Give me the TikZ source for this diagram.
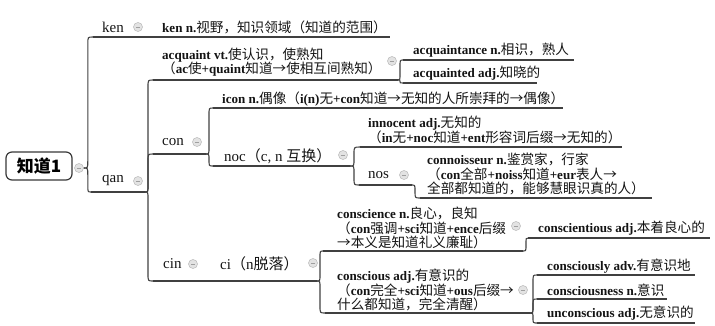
\documentclass[tikz,border=0pt]{standalone}
\usepackage{fontspec}
\setmainfont{Liberation Serif}[BoldFeatures={Scale=0.96}]
\newfontfamily\cjk{Noto Sans CJK SC}
\usetikzlibrary{calc}
\newcommand\C[1]{{\cjk\mdseries #1}}
\newcommand\B[1]{\textbf{#1}}
\tikzset{
  conn/.style={draw=black!75,line width=1.1pt},
  uline/.style={draw=black!75,line width=1.1pt},
  deftext/.style={anchor=west,inner sep=0pt,align=left,text=black!92,font=\fontsize{13.6}{14.5}\selectfont},
  labtext/.style={anchor=west,inner sep=0pt,text=black!92,font=\fontsize{15}{17}\selectfont},
  fold/.style={circle,minimum size=9pt,inner sep=0pt,fill=gray!22,draw=gray!50,line width=0.6pt,
    path picture={\draw[gray!75,line width=0.8pt]
      ([xshift=-2.2pt]path picture bounding box.center) -- ([xshift=2.2pt]path picture bounding box.center);}},
  rootbox/.style={draw=black!78,line width=1.2pt,rounded corners=6pt,minimum width=66pt,minimum height=28pt,
    inner sep=0pt,font=\cjk\bfseries\fontsize{17}{19}\selectfont}
}
% connector: from #1 to #2, vertical part at x(#1)+#3
\newcommand\link[3]{%
  \draw[conn] let \p1=(#1), \p2=(#2), \n1={\x1+#3},
    \n2={sign(\y2-\y1)*min(7,abs(\y2-\y1)/2)} in
    (\p1) .. controls (\n1,\y1) .. (\n1,\y1+\n2) -- (\n1,\y2-\n2)
    .. controls (\n1,\y2) .. (\p2);}
% underline: name, xL, xR, y
\newcommand\uline[4]{%
  \coordinate (#1-s) at (#2,#4);
  \coordinate (#1-e) at (#3,#4);
  \draw[uline] (#1-s) -- (#1-e);}
\begin{document}
\begin{tikzpicture}[x=1pt,y=-1pt]
\useasboundingbox (0,0) rectangle (715,325);

% root
\node[rootbox] (root) at (39,166) {知道1};
\node[fold] (root-c) at (79,168) {};

% level 1
\node[labtext] (ken) at (102,27) {ken};
\node[fold] (ken-c) at (138,27) {};
\uline{ken}{93}{148}{37}
\node[deftext] (kend) at (162,27) {\B{ken n.}\C{视野，知识领域（知道的范围）}};
\uline{kend}{155}{390}{37}

\node[labtext] (qan) at (102,180) {qan};
\node[fold] (qan-c) at (138,181) {};
\uline{qan}{91}{145}{192}

% acquaint
\node[deftext] (acq) at (162,62) {\B{acquaint vt.}\C{使认识，使熟知}\\\C{（}\B{ac}\C{使}\B{+quaint}\C{知道→使相互间熟知）}};
\node[fold] (acq-c) at (392,61) {};
\uline{acq}{153}{398}{80}
\node[deftext] (acqce) at (413,50) {\B{acquaintance n.}\C{相识，熟人}};
\uline{acqce}{403}{574}{60}
\node[deftext] (acqed) at (413,73) {\B{acquainted adj.}\C{知晓的}};
\uline{acqed}{403}{537}{83}

% con
\node[labtext] (con) at (162,142) {con};
\node[fold] (con-c) at (197,142) {};
\uline{con}{153}{206}{154}
\node[deftext] (icon) at (222,99) {\B{icon n.}\C{偶像（}\B{i(n)}\C{无}\B{+con}\C{知道→无知的人所崇拜的→偶像）}};
\uline{icon}{213}{563}{108}
\node[labtext] (noc) at (224,156) {noc\C{（}c, n \C{互换）}};
\node[fold] (noc-c) at (343,155) {};
\uline{noc}{213}{350}{166}
\node[deftext] (inno) at (368,130) {\B{innocent adj.}\C{无知的}\\\C{（}\B{in}\C{无}\B{+noc}\C{知道}\B{+ent}\C{形容词后缀→无知的）}};
\uline{inno}{360}{622}{147}
\node[labtext] (nos) at (368,175) {nos};
\node[fold] (nos-c) at (404,175) {};
\uline{nos}{359}{412}{185}
\node[deftext] (conn) at (427,174) {\B{connoisseur n.}\C{鉴赏家，行家}\\\C{（}\B{con}\C{全部}\B{+noiss}\C{知道}\B{+eur}\C{表人→}\\\C{全部都知道的，能够慧眼识真的人）}};
\uline{conn}{420}{652}{198}

% cin
\node[labtext] (cin) at (163,264) {cin};
\node[fold] (cin-c) at (193,264) {};
\uline{cin}{153}{203}{281}
\node[labtext] (ci) at (220,264) {ci\C{（}n\C{脱落）}};
\node[fold] (ci-c) at (313,263) {};
\uline{ci}{207}{317}{281}
\node[deftext] (consc) at (337,228) {\B{conscience n.}\C{良心，良知}\\\C{（}\B{con}\C{强调}\B{+sci}\C{知道}\B{+ence}\C{后缀}\\\C{→本义是知道礼义廉耻）}};
\node[fold] (consc-c) at (516,226) {};
\uline{consc}{323}{523}{251}
\node[deftext] (consct) at (538,228) {\B{conscientious adj.}\C{本着良心的}};
\uline{consct}{528}{710}{238}
\node[deftext] (consus) at (337,290) {\B{conscious adj.}\C{有意识的}\\\C{（}\B{con}\C{完全}\B{+sci}\C{知道}\B{+ous}\C{后缀→}\\\C{什么都知道，完全清醒）}};
\node[fold] (consus-c) at (523,290) {};
\uline{consus}{325}{530}{313}
\node[deftext] (cly) at (547,266) {\B{consciously adv.}\C{有意识地}};
\uline{cly}{537}{695}{275}
\node[deftext] (cness) at (547,290) {\B{consciousness n.}\C{意识}};
\uline{cness}{537}{667}{299}
\node[deftext] (uncon) at (547,313) {\B{unconscious adj.}\C{无意识的}};
\uline{uncon}{537}{695}{323}

% connectors
\link{root-c.east}{ken-s}{4}
\link{root-c.east}{qan-s}{4}
\draw[conn] (ken-e) -- (kend-s);
\link{qan-e}{acq-s}{3}
\link{qan-e}{con-s}{3}
\link{qan-e}{cin-s}{3}
\link{acq-e}{acqce-s}{2}
\link{acq-e}{acqed-s}{2}
\link{con-e}{icon-s}{3}
\link{con-e}{noc-s}{3}
\link{noc-e}{inno-s}{4}
\link{noc-e}{nos-s}{4}
\link{nos-e}{conn-s}{3}
\draw[conn] (cin-e) -- (ci-s);
\link{ci-e}{consc-s}{3}
\link{ci-e}{consus-s}{3}
\link{consc-e}{consct-s}{3}
\link{consus-e}{cly-s}{3}
\link{consus-e}{cness-s}{3}
\link{consus-e}{uncon-s}{3}
\end{tikzpicture}
\end{document}
